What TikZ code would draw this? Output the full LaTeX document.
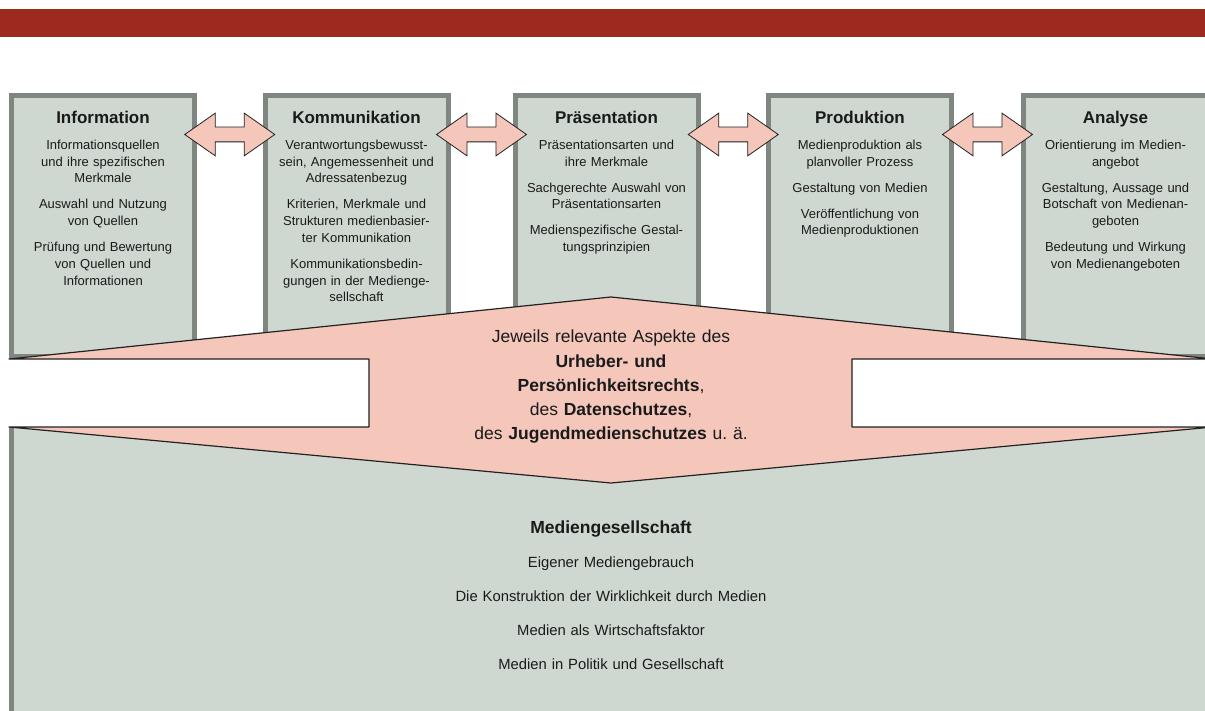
\documentclass[tikz,border=0pt]{standalone}
\usepackage{fontspec}
\setmainfont{Liberation Sans}
\usetikzlibrary{positioning,calc,shapes.arrows}

\definecolor{barred}{HTML}{9D2A1F}
\definecolor{boxfill}{HTML}{CED8D0}
\definecolor{boxline}{HTML}{7E867F}
\definecolor{pinkfill}{HTML}{F5C7BB}
\definecolor{edgeline}{HTML}{222222}
\definecolor{textcol}{HTML}{1A1A1A}

\newcommand{\areatitle}[1]{{\fontsize{17}{16.7}\selectfont\bfseries #1}}

\begin{document}
\begin{tikzpicture}[x=1pt,y=-1pt,node distance=253pt,on grid,
    area/.style={draw=boxline,line width=5pt,fill=boxfill,minimum width=183pt,minimum height=261pt,inner sep=0pt},
    areatext/.style={anchor=north,text width=180pt,align=center,inner sep=0pt,text=textcol,font=\fontsize{13}{16.7}\selectfont},
    linkarrow/.style={double arrow,draw=edgeline,fill=pinkfill,line width=0.8pt,inner xsep=0pt,inner ysep=7pt,minimum height=90pt,double arrow head extend=14pt,double arrow tip angle=70}]
    \useasboundingbox (0,0) rectangle (1205,711);
    \fill[white] (0,0) rectangle (1205,711);
    \clip (0,0) rectangle (1205,711);
    \fill[barred] (0,9) rectangle (1205,37);

    % Mediengesellschaft
    \node[fill=boxfill,minimum width=1204pt,minimum height=320pt,inner sep=0pt,anchor=north west] (media) at (9,427) {};
    \draw[boxline,line width=5pt] ([xshift=2.5pt]media.north west) -- ([xshift=2.5pt]media.south west);

    % five areas
    \node[area] (info) at (103,226) {};
    \node[area] (komm) [right=253.5pt of info] {};
    \node[area] (praes) [right=250pt of komm] {};
    \node[area] (prod) [right=253.5pt of praes] {};
    \node[area,minimum width=190pt] (anal) [right=258.5pt of prod] {};

    \node[areatext] (info-t) at ([yshift=-18pt]info.north) {\areatitle{Information}\\[9.3pt]
        Informationsquellen\\ und ihre spezifischen\\ Merkmale\\[9.3pt]
        Auswahl und Nutzung\\ von Quellen\\[9.3pt]
        Prüfung und Bewertung\\ von Quellen und\\ Informationen};
    \node[areatext] (komm-t) at ([yshift=-18pt]komm.north) {\areatitle{Kommunikation}\\[9.3pt]
        Verantwortungsbewusst-\\ sein, Angemessenheit und\\ Adressatenbezug\\[9.3pt]
        Kriterien, Merkmale und\\ Strukturen medienbasier-\\ ter Kommunikation\\[9.3pt]
        Kommunikationsbedin-\\ gungen in der Medienge-\\ sellschaft};
    \node[areatext] (praes-t) at ([yshift=-18pt]praes.north) {\areatitle{Präsentation}\\[9.3pt]
        Präsentationsarten und\\ ihre Merkmale\\[9.3pt]
        Sachgerechte Auswahl von\\ Präsentationsarten\\[9.3pt]
        Medienspezifische Gestal-\\ tungsprinzipien};
    \node[areatext] (prod-t) at ([yshift=-18pt]prod.north) {\areatitle{Produktion}\\[9.3pt]
        Medienproduktion als\\ planvoller Prozess\\[9.3pt]
        Gestaltung von Medien\\[9.3pt]
        Veröffentlichung von\\ Medienproduktionen};
    \node[areatext] (anal-t) at ([xshift=-3pt,yshift=-18pt]anal.north) {\areatitle{Analyse}\\[9.3pt]
        Orientierung im Medien-\\ angebot\\[9.3pt]
        Gestaltung, Aussage und\\ Botschaft von Medienan-\\ geboten\\[9.3pt]
        Bedeutung und Wirkung\\ von Medienangeboten};

    % rechtliche Aspekte
    \draw[edgeline,line width=1.2pt,fill=pinkfill,line join=round]
        (611,297) -- (1213,359) -- (852,359) -- (852,427) -- (1213,427) -- (611,483)
        -- (9,427) -- (369,427) -- (369,359) -- (9,359) -- cycle;
    \node[anchor=north,text width=320pt,align=center,inner sep=0pt,text=textcol,font=\fontsize{17.5}{24.2}\selectfont] (rights) at (611,330)
        {Jeweils relevante Aspekte des\\ \textbf{Urheber- und}\\ \textbf{Persönlichkeitsrechts},\\ des \textbf{Datenschutzes},\\ des \textbf{Jugendmedienschutzes} u.\ ä.};

    \node[anchor=north,text width=420pt,align=center,inner sep=0pt,text=textcol,font=\fontsize{14.8}{34}\selectfont] (media-t) at (611,521)
        {{\fontsize{17.5}{34}\selectfont\bfseries Mediengesellschaft}\\
        Eigener Mediengebrauch\\
        Die Konstruktion der Wirklichkeit durch Medien\\
        Medien als Wirtschaftsfaktor\\
        Medien in Politik und Gesellschaft};

    % Verbindungen
    \node[linkarrow] (info-komm) at ($(info.north east)!0.5!(komm.north west)+(0,41.5)$) {};
    \node[linkarrow] (komm-praes) at ($(komm.north east)!0.5!(praes.north west)+(0,41.5)$) {};
    \node[linkarrow] (praes-prod) at ($(praes.north east)!0.5!(prod.north west)+(0,41.5)$) {};
    \node[linkarrow] (prod-anal) at ($(prod.north east)!0.5!(anal.north west)+(0,41.5)$) {};
\end{tikzpicture}
\end{document}
